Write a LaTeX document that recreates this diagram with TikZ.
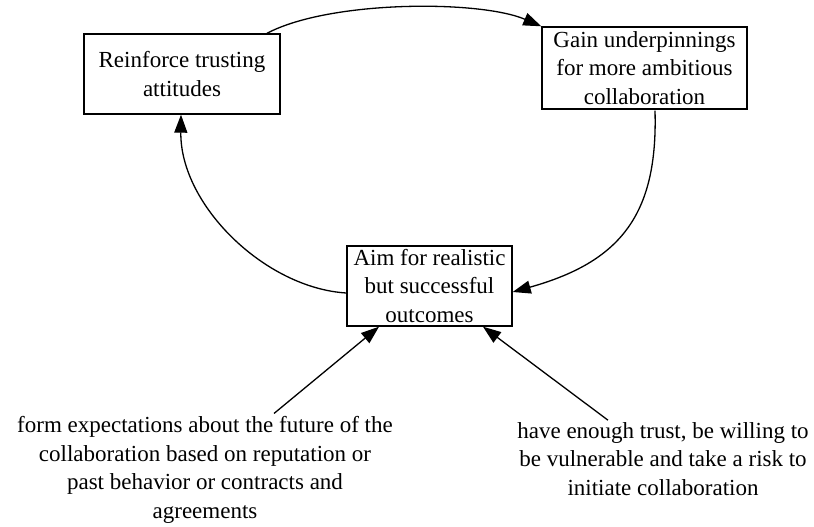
\documentclass[tikz,border=0pt]{standalone}
\usepackage{fontspec}
\setmainfont{Liberation Serif}
\usetikzlibrary{arrows.meta,calc}
\begin{document}
\begin{tikzpicture}[x=1pt,y=-1pt,
  every node/.style={font=\fontsize{23}{28.5}\selectfont, align=center},
  stepbox/.style={draw, line width=1.4pt, inner sep=0pt},
  note/.style={inner sep=0pt},
  link/.style={line width=1.3pt, -{Triangle[length=18pt,width=13pt]}}]
  \useasboundingbox (0,0) rectangle (814,527);
  % the three stages of the cycle
  \node[stepbox, minimum width=196pt, minimum height=80pt] (reinforce) at (182,74)
    {Reinforce trusting\\attitudes};
  \node[stepbox, minimum width=205pt, minimum height=82pt] (gain) at (644.5,68)
    {Gain underpinnings\\for more ambitious\\collaboration};
  \node[stepbox, minimum width=165pt, minimum height=80pt] (aim) at (429.5,286)
    {Aim for realistic\\but successful\\outcomes};
  % the two preconditions
  \node[note] (expect) at (205,470)
    {form expectations about the future of the\\collaboration based on reputation or\\past behavior or contracts and\\agreements};
  \node[note] (trust) at (663,459)
    {have enough trust, be willing to\\be vulnerable and take a risk to\\initiate collaboration};
  % cycle edges
  \draw[link] ($(reinforce.north)+(85,0)$) .. controls (330,0) and (480,0) .. (gain.north west);
  \draw[link] ($(gain.south)+(10.5,1)$) .. controls (658,215) and (620,262) .. ($(aim.east)+(0,6)$);
  \draw[link] ($(aim.west)+(0,7)$) .. controls (265,288) and (180,205) .. ($(reinforce.south)+(-1,0)$);
  % precondition edges
  \draw[link] ($(expect.north)+(69,-3)$) -- ($(aim.south)+(-50.5,0)$);
  \draw[link] ($(trust.north)+(-55,-2)$) -- ($(aim.south)+(53.5,0)$);
\end{tikzpicture}
\end{document}
